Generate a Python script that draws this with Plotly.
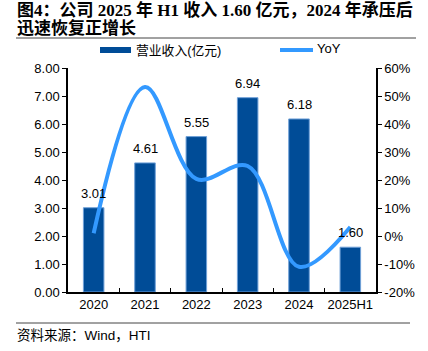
import plotly.graph_objects as go

categories = ["2020", "2021", "2022", "2023", "2024", "2025H1"]
revenue = [3.01, 4.61, 5.55, 6.94, 6.18, 1.60]
yoy = [1.0, 53.2, 20.4, 25.0, -11.0, 3.2]
left_ticks = [0, 1, 2, 3, 4, 5, 6, 7, 8]
right_ticks = [-20, -10, 0, 10, 20, 30, 40, 50, 60]

BAR = "#004C97"
LINE = "#3399FF"
W, H = 428, 351
L, R, T, B = 68, 52, 68, 59
PW, PH = W - L - R, H - T - B

fig = go.Figure()
fig.add_trace(go.Bar(
    x=categories, y=revenue, name="营业收入(亿元)",
    marker=dict(color=BAR, line=dict(color="#6FA0D8", width=1)),
    width=0.4, showlegend=False,
))
fig.add_trace(go.Scatter(
    x=categories, y=yoy, name="YoY", yaxis="y2", mode="lines",
    line=dict(color=LINE, width=4, shape="spline", smoothing=1.0),
    showlegend=False,
))

ann = []
for i, v in enumerate(revenue):
    ann.append(dict(x=i, y=v, xref="x", yref="y", text=f"{v:.2f}", showarrow=False,
                    yanchor="bottom", yshift=5,
                    font=dict(family="Liberation Sans, Arial", size=13, color="#000")))

def px(xp):
    return (xp - L) / PW
def py(yp):
    return (H - B - yp) / PH

title_font = dict(family="Liberation Serif, Noto Sans CJK SC", size=17, color="#000")
ann.append(dict(x=px(15), y=py(10), xref="paper", yref="paper", xanchor="left", yanchor="middle",
                text="<b>图4：公司 2025 年 H1 收入 1.60 亿元，2024 年承压后</b>", showarrow=False, font=title_font))
ann.append(dict(x=px(15), y=py(28), xref="paper", yref="paper", xanchor="left", yanchor="middle",
                text="<b>迅速恢复正增长</b>", showarrow=False, font=title_font))
ann.append(dict(x=px(15), y=py(335), xref="paper", yref="paper", xanchor="left", yanchor="middle",
                text="资料来源：Wind，HTI", showarrow=False,
                font=dict(family="Liberation Sans, Noto Sans CJK SC", size=13.5, color="#000")))
# legend texts
ann.append(dict(x=px(134), y=py(50), xref="paper", yref="paper", xanchor="left", yanchor="middle",
                text="营业收入(亿元)", showarrow=False,
                font=dict(family="Liberation Sans, Noto Sans CJK SC", size=12.8, color="#000")))
ann.append(dict(x=px(315), y=py(49), xref="paper", yref="paper", xanchor="left", yanchor="middle",
                text="YoY", showarrow=False,
                font=dict(family="Liberation Sans, Arial", size=13, color="#000")))

shapes = [
    dict(type="line", xref="paper", yref="paper", x0=px(16), x1=px(416), y0=py(38), y1=py(38),
         line=dict(color="#444", width=1)),
    dict(type="line", xref="paper", yref="paper", x0=px(16), x1=px(410), y0=py(323), y1=py(323),
         line=dict(color="#444", width=1)),
    dict(type="rect", xref="paper", yref="paper", x0=px(100), x1=px(131), y0=py(53), y1=py(47),
         fillcolor=BAR, line=dict(width=0)),
    dict(type="line", xref="paper", yref="paper", x0=px(280), x1=px(313), y0=py(50), y1=py(50),
         line=dict(color=LINE, width=4)),
]

tick_font = dict(family="Liberation Sans, Arial", size=13, color="#000")
fig.update_layout(
    width=W, height=H, margin=dict(l=L, r=R, t=T, b=B),
    paper_bgcolor="white", plot_bgcolor="white",
    annotations=ann, shapes=shapes,
    xaxis=dict(type="category", range=[-0.5, len(categories) - 0.5], showline=True, linecolor="#000",
               linewidth=1.5, ticks="inside", tickson="boundaries", ticklen=4, tickcolor="#000",
               tickfont=tick_font, showgrid=False, tickangle=0),
    yaxis=dict(range=[0, 8], tickvals=left_ticks, ticktext=[f"{v:.2f}" for v in left_ticks],
               showline=True, linecolor="#000", linewidth=1.5, ticks="outside", ticklen=4,
               tickcolor="#000", tickfont=tick_font, showgrid=False, zeroline=False),
    yaxis2=dict(range=[-20, 60], tickvals=right_ticks, ticktext=[f"{v}%" for v in right_ticks],
                overlaying="y", side="right", showline=True, linecolor="#000", linewidth=1.5,
                ticks="outside", ticklen=4, tickcolor="#000", tickfont=tick_font,
                showgrid=False, zeroline=False),
    bargap=0.6,
)
fig.write_html("out.html")
